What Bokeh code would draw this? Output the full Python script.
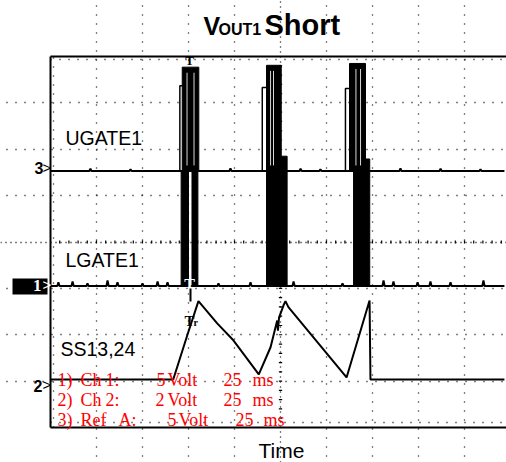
from bokeh.plotting import figure
from bokeh.models import Range1d, Grid, FixedTicker
from bokeh.core.properties import value
from bokeh.embed import file_html
from bokeh.resources import INLINE

# ---------------- data (time in ms, 25 ms/div; amplitudes in volts) ----------------
TIME_PER_DIV = 25.0
N_DIV_X = 10
N_DIV_Y = 8

# channel settings: volts per division and trace reference level (in divisions from bottom)
ug_vdiv, ug_ref = 5.0, 5.53   # Ref A : UGATE1
lg_vdiv, lg_ref = 5.0, 3.05   # Ch 1  : LGATE1
ss_vdiv, ss_ref = 2.0, 1.035  # Ch 2  : SS13,24

t_end = 246.7

# UGATE1 bursts
ug_step_t = [70.3, 115.1, 160.3]
ug_step_v = [9.2, 9.0, 8.9]
ug_burst_t0 = [71.6, 117.4, 162.5]
ug_burst_t1 = [80.6, 125.4, 171.2]
ug_burst_top = [11.2, 11.4, 11.6]
ug_gap_t = [74.2, 78.0, 119.6, 121.2, 166.0, 168.5]
ug_spike_t = [21.7, 43.5, 97.8, 135.9, 146.7, 190.2, 212.0, 233.7]
ug_spike_v = [0.25, 0.2, 0.3, 0.25, 0.2, 0.3, 0.25, 0.2]

# LGATE1 bursts
lg_burst_t0 = [71.0, 76.9, 117.4, 125.4, 164.7, 171.2]
lg_burst_t1 = [75.0, 80.1, 125.4, 128.6, 171.2, 173.5]
lg_burst_top = [12.4, 12.4, 12.4, 14.0, 12.4, 13.7]
lg_spike_t = [4.3, 12.0, 20.1, 31.0, 36.4, 50.0, 58.2, 63.6, 91.3, 108.7,
              132.1, 158.7, 181.0, 186.4, 199.5, 206.5, 217.4, 235.3]
lg_spike_v = [0.4, 0.5, 0.3, 0.6, 0.4, 0.3, 0.5, 0.4, 0.3, 0.4,
              0.5, 0.3, 0.6, 0.5, 0.4, 0.5, 0.4, 0.6]

# SS13,24 soft-start waveform
ss_t = [0, 66.7, 74.3, 80.4, 90.6, 99.5, 113.2, 119.6, 123.2, 123.6, 124.2,
        126.6, 127.7, 129.3, 160.9, 173.4, 173.9, 246.7]
ss_v = [0, 0, 1.90, 3.38, 2.42, 1.68, 0.22, 1.39, 2.54, 2.11, 2.67,
        3.19, 3.38, 3.12, 0.09, 3.41, 0, 0]

trace_names = ["UGATE1", "LGATE1", "SS13,24"]
scale_rows = [["1)", "Ch", "1:", "5", "Volt", "25", "ms"],
              ["2)", "Ch", "2:", "2", "Volt", "25", "ms"],
              ["3)", "Ref", "A:", "5", "Volt", "25", "ms"]]
title_parts = ["V", "OUT1", "Short"]
x_label = "Time"

# ---------------- layout helpers (reference pixel -> plot coords) ----------------
def sx(px):
    return (px - 50) * TIME_PER_DIV / 46.0

def sy(py):
    return (427 - py) / 46.375

def ug(v):
    return ug_ref + v / ug_vdiv

def lg(v):
    return lg_ref + v / lg_vdiv

def ss(v):
    return ss_ref + v / ss_vdiv

W, H = 506, 462
p = figure(width=W, height=H, x_range=Range1d(sx(0), sx(W)),
           y_range=Range1d(sy(H), sy(0)), output_backend="svg",
           toolbar_location=None, x_axis_location=None, y_axis_location=None,
           min_border=0, title=None)
p.outline_line_color = None
p.grid.visible = False
p.background_fill_color = "white"
p.border_fill_color = "white"

x_right = sx(506)
# regular dotted graticule
p.add_layout(Grid(dimension=0, ticker=FixedTicker(ticks=[i * TIME_PER_DIV for i in range(1, N_DIV_X) if i != 5]),
                  bounds=(0, N_DIV_Y), grid_line_color="black", grid_line_dash="1 8",
                  grid_line_width=1.3, grid_line_dash_offset=3))
p.add_layout(Grid(dimension=1, ticker=FixedTicker(ticks=[i for i in range(1, N_DIV_Y) if i != 4]),
                  bounds=(0, x_right), grid_line_color="black", grid_line_dash="1 8",
                  grid_line_width=1.3, grid_line_dash_offset=3))
# center lines (denser)
p.add_layout(Grid(dimension=0, ticker=FixedTicker(ticks=[5 * TIME_PER_DIV]), bounds=(0, N_DIV_Y),
                  grid_line_color="black", grid_line_dash="1 4", grid_line_width=1.3))
p.add_layout(Grid(dimension=1, ticker=FixedTicker(ticks=[4]), bounds=(0, x_right),
                  grid_line_color="black", grid_line_dash="1 4", grid_line_width=1.3))
# minor ticks on the center lines
tx = [i * TIME_PER_DIV / 5 for i in range(1, 5 * N_DIV_X + 1)]
p.segment(x0=tx, x1=tx, y0=[4 - 0.035] * len(tx), y1=[4 + 0.035] * len(tx), line_color="black", line_width=1.2)
ty = [i / 5 for i in range(1, 5 * N_DIV_Y)]
p.segment(x0=[125 - 0.9] * len(ty), x1=[125 + 0.9] * len(ty), y0=ty, y1=ty, line_color="black", line_width=1.2)
# inner border tick rows
p.line([0, x_right], [sy(59), sy(59)], line_color="black", line_dash="1 8", line_width=1.3)
p.line([0, x_right], [sy(422), sy(422)], line_color="black", line_dash="1 8", line_width=1.3)
p.line([sx(53), sx(53)], [0, N_DIV_Y], line_color="black", line_dash="1 8", line_width=1.3)

# border
p.multi_line(xs=[[0, x_right], [0, x_right], [0, 0]], ys=[[0, 0], [N_DIV_Y, N_DIV_Y], [0, N_DIV_Y]],
             line_color="black", line_width=2)

# ---- UGATE trace ----
def spiky(ts, vs):
    xs, ys = [0], [0]
    for t, v in zip(ts, vs):
        xs += [t - 0.6, t, t + 0.6]
        ys += [0, v, 0]
    xs.append(t_end)
    ys.append(0)
    return xs, ys

ux, uy = spiky(ug_spike_t, ug_spike_v)
p.line(ux, [ug(v) for v in uy], line_color="black", line_width=2)
p.multi_line(xs=[[s, s, b] for s, b in zip(ug_step_t, ug_burst_t0)],
             ys=[[ug(0), ug(v), ug(v)] for v in ug_step_v], line_color="black", line_width=1.5)
p.quad(left=ug_burst_t0, right=ug_burst_t1, bottom=[ug(0)] * 3, top=[ug(v) for v in ug_burst_top],
       fill_color="black", line_color="black", line_width=1)
gap_top = [ug(ug_burst_top[i // 2] - 0.6) for i in range(len(ug_gap_t))]
p.segment(x0=ug_gap_t, x1=ug_gap_t, y0=[ug(0.6)] * len(ug_gap_t), y1=gap_top,
          line_color="#d8d8d8", line_width=1)

# ---- LGATE trace ----
lx, ly = spiky(lg_spike_t, lg_spike_v)
p.line(lx, [lg(v) for v in ly], line_color="black", line_width=2)
p.quad(left=lg_burst_t0, right=lg_burst_t1, bottom=[lg(0)] * len(lg_burst_t0),
       top=[lg(v) for v in lg_burst_top], fill_color="black", line_color="black", line_width=1)

# ---- SS trace ----
p.line(ss_t, [ss(v) for v in ss_v], line_color="black", line_width=2)

# ---- texts ----
sans = value("Liberation Sans")
serif = value("Liberation Serif")
p.text(x=[sx(65), sx(65), sx(60)], y=[sy(137), sy(259), sy(348)], text=trace_names,
       text_font=sans, text_font_size="19.5px", text_baseline="alphabetic", text_color="black")

row_px = [[57, 80, 105, 156, 167, 223, 252], [57, 80, 105, 155, 167, 223, 252], [57, 80, 118, 167, 178, 235, 263]]
row_base = [379, 399, 419]
wx, wy, wt = [], [], []
for words, pxs, b in zip(scale_rows, row_px, row_base):
    for w, px in zip(words, pxs):
        wx.append(sx(px)); wy.append(sy(b)); wt.append(w)
p.text(x=wx, y=wy, text=wt, text_font=serif, text_font_size="18px", text_baseline="alphabetic",
       text_color="#ff0000")

# title
p.text(x=[sx(203)], y=[sy(25)], text=[title_parts[0]], text_font=sans, text_font_style="bold",
       text_font_size="25px", text_baseline="alphabetic", text_color="black")
p.text(x=[sx(218)], y=[sy(29)], text=[title_parts[1]], text_font=sans, text_font_style="bold",
       text_font_size="16px", text_baseline="alphabetic", text_color="black")
p.text(x=[sx(264)], y=[sy(24)], text=[title_parts[2]], text_font=sans, text_font_style="bold",
       text_font_size="29px", text_baseline="alphabetic", text_color="black")
# x label
p.text(x=[sx(281)], y=[sy(450)], text=[x_label], text_font=sans, text_font_size="21px",
       text_align="center", text_baseline="alphabetic", text_color="black")

# channel markers
p.quad(left=[sx(12)], right=[sx(47)], bottom=[sy(294)], top=[sy(278)], fill_color="black", line_color=None)
p.text(x=[sx(43), sx(42)], y=[sy(167), sy(385)], text=["3", "2"], text_font=sans, text_font_style="bold",
       text_font_size="16px", text_align="right", text_baseline="middle", text_color="black")
p.text(x=[sx(41)], y=[sy(285)], text=["1"], text_font=serif, text_font_style="bold",
       text_font_size="17px", text_align="right", text_baseline="middle", text_color="white")
p.text(x=[sx(42), sx(42)], y=[sy(167), sy(384)], text=[">", ">"], text_font=sans,
       text_font_size="15px", text_baseline="middle", text_color="black")
p.text(x=[sx(42)], y=[sy(284)], text=[">"], text_font=sans,
       text_font_size="15px", text_baseline="middle", text_color="white")

# trigger markers
p.text(x=[sx(189)], y=[sy(60)], text=["T"], text_font=serif, text_font_style="bold",
       text_font_size="13px", text_align="center", text_baseline="alphabetic", text_color="black")
p.text(x=[sx(189)], y=[sy(284)], text=["T"], text_font=serif, text_font_style="bold",
       text_font_size="16px", text_align="center", text_baseline="alphabetic", text_color="white")
p.segment(x0=[sx(190)], x1=[sx(190)], y0=[sy(288)], y1=[sy(301)], line_color="black", line_width=2)
p.text(x=[sx(184)], y=[sy(320)], text=["T"], text_font=serif, text_font_style="bold",
       text_font_size="15px", text_baseline="alphabetic", text_color="black")
p.text(x=[sx(193)], y=[sy(322)], text=["r"], text_font=serif, text_font_style="bold",
       text_font_size="10px", text_baseline="alphabetic", text_color="black")

open("out.html", "w").write(file_html(p, INLINE))
